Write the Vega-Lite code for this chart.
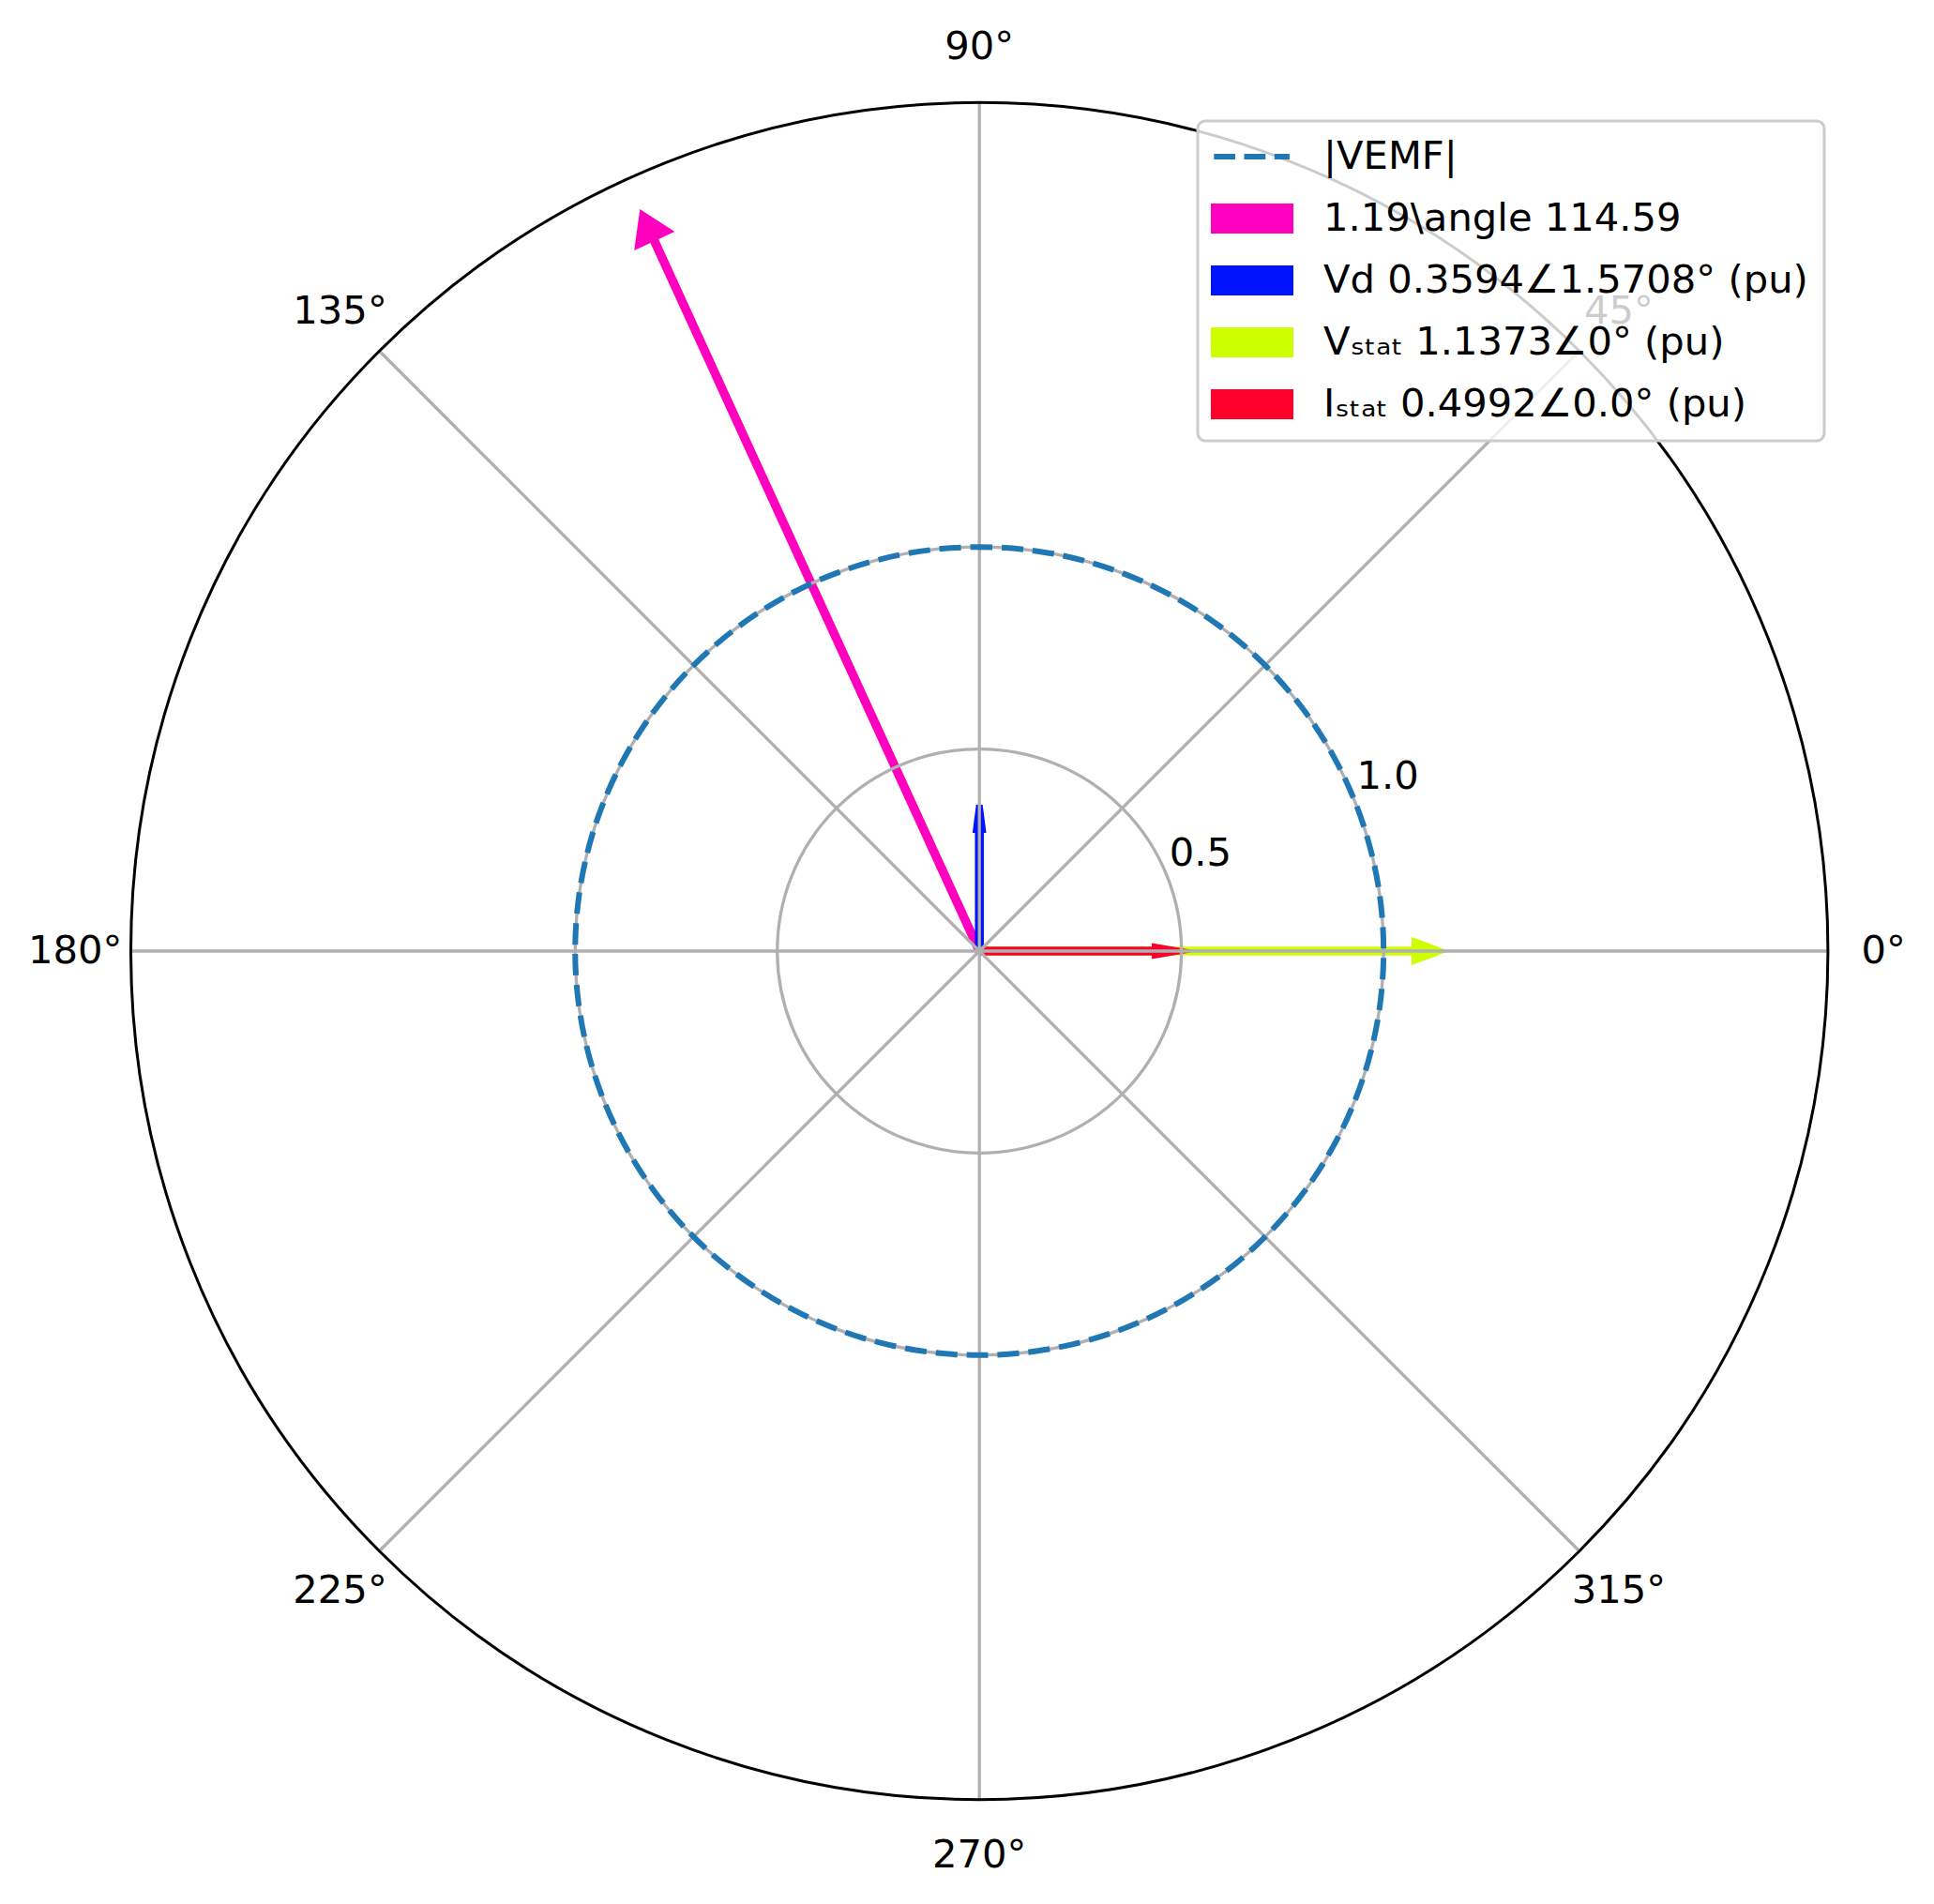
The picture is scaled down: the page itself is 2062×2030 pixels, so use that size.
{
  "$schema": "https://vega.github.io/schema/vega-lite/v6.json",
  "width": 1809.4,
  "height": 1809.4,
  "autosize": {"type": "none"},
  "padding": {"left": 139.5, "top": 109.3, "right": 113.1, "bottom": 111.3},
  "background": "white",
  "config": {"view": {"stroke": null}, "font": "DejaVu Sans"},
  "datasets": {
    "arrows": [
      {"key": "E", "mag": 1.19, "deg": 114.59, "x0": 0, "y0": 0, "xb": -0.806, "yb": 1.7613, "xt": -0.8401, "yt": 1.8359},
      {"key": "Vd", "mag": 0.3594, "deg": 90, "x0": 0, "y0": 0, "xb": 0, "yb": 0.297, "xt": 0, "yt": 0.3621},
      {"key": "Vstat", "mag": 1.1373, "deg": 0, "x0": 0, "y0": 0, "xb": 1.075, "yb": 0, "xt": 1.1625, "yt": 0},
      {"key": "Istat", "mag": 0.4992, "deg": 0, "x0": 0, "y0": 0, "xb": 0.43, "yb": 0, "xt": 0.5427, "yt": 0}
    ],
    "spokes": [
      {"deg": 0, "x": 0, "y": 0, "x2": 2.1, "y2": 0},
      {"deg": 45, "x": 0, "y": 0, "x2": 1.4849, "y2": 1.4849},
      {"deg": 90, "x": 0, "y": 0, "x2": 0, "y2": 2.1},
      {"deg": 135, "x": 0, "y": 0, "x2": -1.4849, "y2": 1.4849},
      {"deg": 180, "x": 0, "y": 0, "x2": -2.1, "y2": 0},
      {"deg": 225, "x": 0, "y": 0, "x2": -1.4849, "y2": -1.4849},
      {"deg": 270, "x": 0, "y": 0, "x2": 0, "y2": -2.1},
      {"deg": 315, "x": 0, "y": 0, "x2": 1.4849, "y2": -1.4849}
    ],
    "anglelabels": [
      {"label": "0°", "x": 2.2377, "y": 0},
      {"label": "45°", "x": 1.5823, "y": 1.5823},
      {"label": "90°", "x": 0, "y": 2.2377},
      {"label": "135°", "x": -1.5823, "y": 1.5823},
      {"label": "180°", "x": -2.2377, "y": 0},
      {"label": "225°", "x": -1.5823, "y": -1.5823},
      {"label": "270°", "x": 0, "y": -2.2377},
      {"label": "315°", "x": 1.5823, "y": -1.5823}
    ],
    "rlabels": [
      {"label": "0.5", "x": 0.47, "y": 0.212},
      {"label": "1.0", "x": 0.934, "y": 0.402}
    ],
    "legend": [
      {"label": "|VEMF|"},
      {"label": "1.19\\angle 114.59"},
      {"label": "Vd 0.3594∠1.5708° (pu)"},
      {"label": "Vₛₜₐₜ 1.1373∠0° (pu)"},
      {"label": "Iₛₜₐₜ 0.4992∠0.0° (pu)"}
    ]
  },
  "layer": [
    {
      "data": {"name": "arrows"},
      "mark": {"type": "rule", "strokeWidth": 9.5, "strokeCap": "butt"},
      "encoding": {
        "x": {"field": "x0", "type": "quantitative", "scale": {"domain": [-2.1, 2.1], "nice": false, "zero": false}, "axis": null},
        "y": {"field": "y0", "type": "quantitative", "scale": {"domain": [-2.1, 2.1], "nice": false, "zero": false}, "axis": null},
        "x2": {"field": "xb"},
        "y2": {"field": "yb"},
        "color": {"field": "key", "type": "nominal", "scale": {"domain": ["E", "Vd", "Vstat", "Istat"], "range": ["#ff00bf", "#0013ff", "#ccff00", "#ff0029"]}, "legend": null}
      }
    },
    {
      "data": {"name": "arrows"},
      "transform": [{"filter": "datum.key === 'E'"}],
      "mark": {"type": "point", "shape": "M0,0L-3.73,-2.375L-3.73,2.375Z", "size": 400, "filled": true, "opacity": 1, "strokeWidth": 0},
      "encoding": {
        "x": {"field": "xt", "type": "quantitative", "axis": null},
        "y": {"field": "yt", "type": "quantitative", "axis": null},
        "angle": {"field": "deg", "type": "quantitative", "scale": {"domain": [0, 360], "range": [0, -360]}},
        "color": {"field": "key", "type": "nominal", "legend": null}
      }
    },
    {
      "data": {"name": "arrows"},
      "transform": [{"filter": "datum.key === 'Vd'"}],
      "mark": {"type": "point", "shape": "M0,-0.35L0,0.35L-3,0.735L-3,-0.735Z", "size": 400, "filled": true, "opacity": 1, "strokeWidth": 0},
      "encoding": {
        "x": {"field": "xt", "type": "quantitative", "axis": null},
        "y": {"field": "yt", "type": "quantitative", "axis": null},
        "angle": {"field": "deg", "type": "quantitative"},
        "color": {"field": "key", "type": "nominal", "legend": null}
      }
    },
    {
      "data": {"name": "arrows"},
      "transform": [{"filter": "datum.key === 'Vstat'"}],
      "mark": {"type": "point", "shape": "M0,0L-4,-1.5L-4,1.5Z", "size": 400, "filled": true, "opacity": 1, "strokeWidth": 0},
      "encoding": {
        "x": {"field": "xt", "type": "quantitative", "axis": null},
        "y": {"field": "yt", "type": "quantitative", "axis": null},
        "angle": {"field": "deg", "type": "quantitative"},
        "color": {"field": "key", "type": "nominal", "legend": null}
      }
    },
    {
      "data": {"name": "arrows"},
      "transform": [{"filter": "datum.key === 'Istat'"}],
      "mark": {"type": "point", "shape": "M0,0L-5,-0.85L-5,0.85Z", "size": 400, "filled": true, "opacity": 1, "strokeWidth": 0},
      "encoding": {
        "x": {"field": "xt", "type": "quantitative", "axis": null},
        "y": {"field": "yt", "type": "quantitative", "axis": null},
        "angle": {"field": "deg", "type": "quantitative"},
        "color": {"field": "key", "type": "nominal", "legend": null}
      }
    },
    {
      "data": {"values": [{"r": 0.5}, {"r": 1.0}]},
      "mark": {"type": "arc", "filled": false, "fill": null, "stroke": "#b0b0b0", "strokeWidth": 3.3, "theta": 0, "theta2": 6.283185307179586},
      "encoding": {
        "radius": {"field": "r", "type": "quantitative", "stack": null, "scale": {"type": "linear", "domain": [0, 2.1], "range": [0, 904.7], "nice": false, "zero": true}}
      }
    },
    {
      "data": {"name": "spokes"},
      "mark": {"type": "rule", "stroke": "#b0b0b0", "strokeWidth": 3.3},
      "encoding": {
        "x": {"field": "x", "type": "quantitative", "axis": null},
        "y": {"field": "y", "type": "quantitative", "axis": null},
        "x2": {"field": "x2"},
        "y2": {"field": "y2"}
      }
    },
    {
      "data": {"values": [{"r": 1.0}]},
      "mark": {"type": "arc", "filled": false, "fill": null, "stroke": "#1f77b4", "strokeWidth": 6, "strokeDash": [23, 10], "strokeDashOffset": 9, "theta": 0, "theta2": 6.283185307179586},
      "encoding": {
        "radius": {"field": "r", "type": "quantitative", "stack": null}
      }
    },
    {
      "data": {"values": [{"r": 2.1}]},
      "mark": {"type": "arc", "filled": false, "fill": null, "stroke": "black", "strokeWidth": 3, "theta": 0, "theta2": 6.283185307179586},
      "encoding": {
        "radius": {"field": "r", "type": "quantitative", "stack": null}
      }
    },
    {
      "data": {"name": "anglelabels"},
      "mark": {"type": "text", "fontSize": 41.7, "font": "DejaVu Sans", "align": "center", "baseline": "middle", "color": "black"},
      "encoding": {
        "x": {"field": "x", "type": "quantitative", "axis": null},
        "y": {"field": "y", "type": "quantitative", "axis": null},
        "text": {"field": "label"}
      }
    },
    {
      "data": {"name": "rlabels"},
      "mark": {"type": "text", "fontSize": 41.7, "font": "DejaVu Sans", "align": "left", "baseline": "alphabetic", "color": "black"},
      "encoding": {
        "x": {"field": "x", "type": "quantitative", "axis": null},
        "y": {"field": "y", "type": "quantitative", "axis": null},
        "text": {"field": "label"}
      }
    },
    {
      "data": {"name": "legend"},
      "mark": {"type": "point", "opacity": 0, "filled": true, "strokeWidth": 0},
      "encoding": {
        "x": {"datum": 0, "type": "quantitative", "axis": null},
        "y": {"datum": 0, "type": "quantitative", "axis": null},
        "fill": {"field": "label", "type": "nominal",
          "scale": {"domain": ["|VEMF|", "1.19\\angle 114.59", "Vd 0.3594∠1.5708° (pu)", "Vₛₜₐₜ 1.1373∠0° (pu)", "Iₛₜₐₜ 0.4992∠0.0° (pu)"], "range": ["#1f77b4", "#ff00bf", "#0013ff", "#ccff00", "#ff0029"]},
          "legend": {"title": null, "orient": "none", "legendX": 1137.5, "legendY": 19.7, "padding": 17, "rowPadding": 23, "symbolOffset": 20, "labelOffset": 55, "labelFontSize": 41.7, "labelFont": "DejaVu Sans", "labelColor": "black", "labelLimit": 0, "symbolSize": 1764, "symbolStrokeWidth": 0, "symbolOpacity": 1, "fillColor": "rgba(255,255,255,0.8)", "strokeColor": "#cccccc", "cornerRadius": 8,
            "encode": {
              "symbols": {"update": {"fill": {"scale": "fill", "field": "value"}, "opacity": {"value": 1}, "fillOpacity": {"value": 1}, "strokeWidth": {"value": 0}}},
              "legend": {"update": {"strokeWidth": {"value": 3}}}
            }
          }
        },
        "shape": {"field": "label", "type": "nominal",
          "scale": {"domain": ["|VEMF|", "1.19\\angle 114.59", "Vd 0.3594∠1.5708° (pu)", "Vₛₜₐₜ 1.1373∠0° (pu)", "Iₛₜₐₜ 0.4992∠0.0° (pu)"], "range": ["M-1.938,-0.143L-0.857,-0.143L-0.857,0.143L-1.938,0.143Z M-0.405,-0.143L0.681,-0.143L0.681,0.143L-0.405,0.143Z M1.133,-0.143L1.9,-0.143L1.9,0.143L1.133,0.143Z", "M-2.095,-0.762L2.095,-0.762L2.095,0.762L-2.095,0.762Z", "M-2.095,-0.762L2.095,-0.762L2.095,0.762L-2.095,0.762Z", "M-2.095,-0.762L2.095,-0.762L2.095,0.762L-2.095,0.762Z", "M-2.095,-0.762L2.095,-0.762L2.095,0.762L-2.095,0.762Z"]},
          "legend": {"title": null, "orient": "none", "legendX": 1137.5, "legendY": 19.7}
        }
      }
    }
  ]
}
